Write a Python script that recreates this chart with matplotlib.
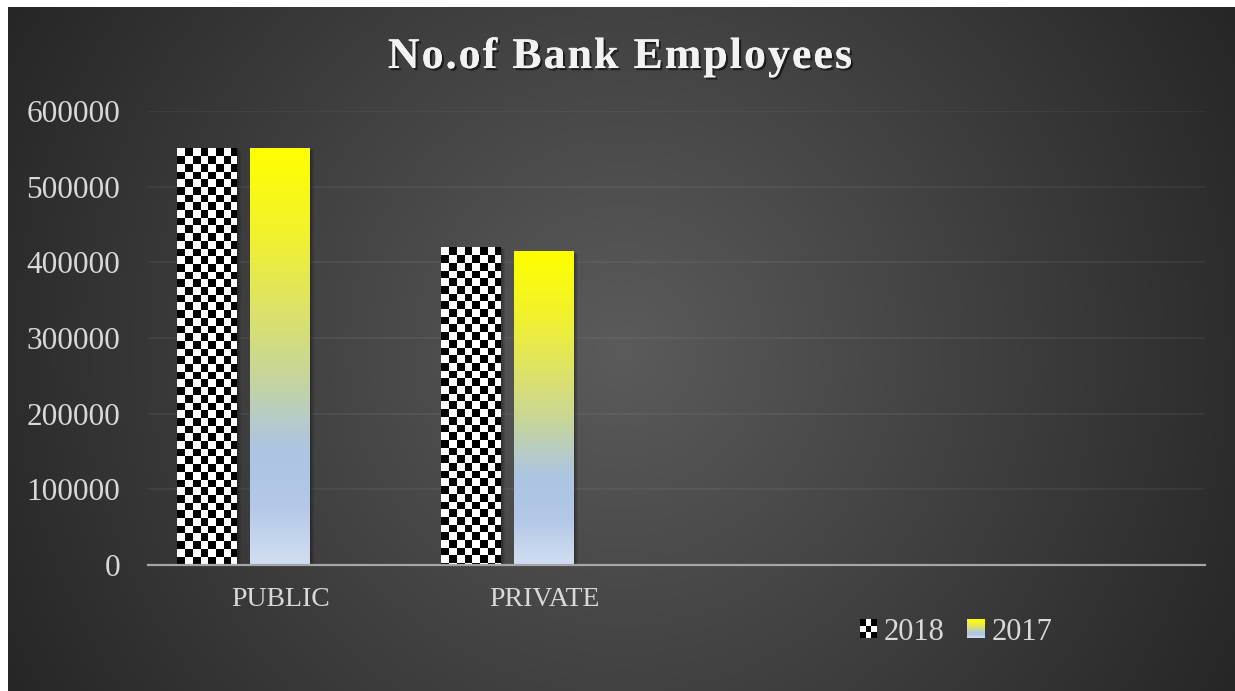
import numpy as np
import matplotlib
matplotlib.use("Agg")
import matplotlib.pyplot as plt
import matplotlib.transforms as mtransforms
from matplotlib.colors import LinearSegmentedColormap
from matplotlib.patches import Rectangle, Patch
from matplotlib.legend_handler import HandlerBase
from matplotlib import patheffects as pe
from matplotlib.font_manager import FontProperties, findfont
from matplotlib.ft2font import FT2Font

# ---- data -------------------------------------------------------------
categories = ["PUBLIC", "PRIVATE", "", ""]
series_names = ["2018", "2017"]
employees_2018 = [551000, 420000, np.nan, np.nan]
employees_2017 = [551000, 414000, np.nan, np.nan]
y_ticks = [0, 100000, 200000, 300000, 400000, 500000, 600000]
title = "No.of Bank Employees"

# ---- styling ----------------------------------------------------------
W, H, DPI = 1235, 691, 100
SERIF = "Liberation Serif"
TXT = "#D9D9D9"
plt.rcParams["font.family"] = [SERIF, "DejaVu Serif"]

grad_2017 = LinearSegmentedColormap.from_list(
    "grad2017",
    [(0.00, "#D2DFF2"), (0.14, "#B4C8E7"), (0.28, "#ADC4E3"),
     (0.36, "#B7CDC4"), (0.46, "#C8D698"), (0.62, "#DDE366"),
     (0.80, "#F2F22C"), (1.00, "#FFFF00")])

fig = plt.figure(figsize=(W / DPI, H / DPI), dpi=DPI, facecolor="white")

# ---- dark panel with radial shading -----------------------------------
bx0, by_top = 8, 7
bg = fig.add_axes([bx0 / W, 0, 1 - bx0 / W, 1 - by_top / H])
bg.set_axis_off()
pw, ph = W - bx0, H - by_top
yy, xx = np.mgrid[0:ph, 0:pw]
cx, cy = pw / 2, ph / 2
r = np.clip(np.hypot(xx - cx, yy - cy) / np.hypot(cx, cy), 0, 1)
inner, outer = 0x5B / 255, 0x26 / 255
shade = inner + (outer - inner) * r
bg.imshow(np.dstack([shade] * 3), extent=(0, 1, 0, 1), aspect="auto",
          interpolation="bilinear")
bg.set_xlim(0, 1)
bg.set_ylim(0, 1)

# ---- plot area --------------------------------------------------------
ax = fig.add_axes([148 / W, 1 - 565 / H, (1205 - 148) / W, (565 - 111) / H])
ax.patch.set_alpha(0)
ax.set_xlim(-0.5, len(categories) - 0.5)
ax.set_ylim(0, 600000)

x = np.arange(len(categories))
bw = 0.227      # bar width (fraction of a category slot)
step = 0.2763   # distance between neighbouring series in a group

bars18 = ax.bar(x - step, employees_2018, width=bw, color="none",
                linewidth=0, zorder=3)
bars17 = ax.bar(x, employees_2017, width=bw, color="none",
                linewidth=0, zorder=3)


def soft_shadow(rect):
    x0, y0 = rect.get_x(), rect.get_y()
    w, h = rect.get_width(), rect.get_height()
    for d in (1.0, 2.0, 3.0, 4.0):
        tr = ax.transData + mtransforms.ScaledTranslation(
            d / DPI, -d * 0.5 / DPI, fig.dpi_scale_trans)
        ax.add_patch(Rectangle((x0, y0), w, h, facecolor="black",
                               edgecolor="none", alpha=0.09,
                               transform=tr, zorder=2.5))


def bar_pixels(rect):
    x0, y0 = rect.get_x(), rect.get_y()
    w, h = rect.get_width(), rect.get_height()
    p0 = ax.transData.transform((x0, y0))
    p1 = ax.transData.transform((x0 + w, y0 + h))
    return x0, y0, w, h, int(round(p1[0] - p0[0])), int(round(p1[1] - p0[1]))


# 2018: white / black checkerboard, ~7.7 px cells, white in the top-left
CELL = 7.7
for rect in bars18.patches:
    if not np.isfinite(rect.get_height()):
        continue
    soft_shadow(rect)
    x0, y0, w, h, wpx, hpx = bar_pixels(rect)
    ii, jj = np.mgrid[0:hpx, 0:wpx]
    checker = 1.0 - ((np.floor(ii / CELL) + np.floor(jj / CELL)) % 2)
    ax.imshow(checker, cmap="gray", vmin=0, vmax=1, origin="upper",
              extent=(x0, x0 + w, y0, y0 + h), aspect="auto",
              interpolation="nearest", zorder=3)

# 2017: vertical gradient, yellow on top to pale blue at the base
grad = np.linspace(0, 1, 512).reshape(-1, 1)
for rect in bars17.patches:
    if not np.isfinite(rect.get_height()):
        continue
    soft_shadow(rect)
    x0, y0, w, h = rect.get_x(), rect.get_y(), rect.get_width(), rect.get_height()
    ax.imshow(grad, cmap=grad_2017, vmin=0, vmax=1, origin="lower",
              extent=(x0, x0 + w, y0, y0 + h), aspect="auto",
              interpolation="bilinear", zorder=3)

ax.set_xlim(-0.5, len(categories) - 0.5)
ax.set_ylim(0, 600000)

# ---- axes decoration --------------------------------------------------
ax.set_yticks(y_ticks, [str(v) for v in y_ticks])
ax.set_xticks(x, categories)
ax.yaxis.grid(True, color="white", alpha=0.05, linewidth=1.5)
ax.set_axisbelow(True)
for side in ("top", "right", "left"):
    ax.spines[side].set_visible(False)
ax.spines["bottom"].set_color("#A6A6A6")
ax.spines["bottom"].set_linewidth(1.6)
ax.spines["bottom"].set_zorder(5)
ax.tick_params(axis="y", length=0, pad=20, labelsize=22.5, labelcolor=TXT)
ax.tick_params(axis="x", length=0, pad=16, labelsize=20, labelcolor=TXT)


# ---- legend -----------------------------------------------------------
class CheckerHandler(HandlerBase):
    def create_artists(self, legend, orig_handle, xdescent, ydescent,
                       width, height, fontsize, trans):
        n = 3
        arts = []
        for i in range(n):
            for j in range(n):
                c = "black" if (i + j) % 2 == 0 else "white"
                arts.append(Rectangle((-xdescent + j * width / n,
                                       -ydescent + i * height / n),
                                      width / n, height / n, facecolor=c,
                                      edgecolor="none", transform=trans))
        return arts


class GradientHandler(HandlerBase):
    def create_artists(self, legend, orig_handle, xdescent, ydescent,
                       width, height, fontsize, trans):
        n = 24
        arts = []
        for k in range(n):
            arts.append(Rectangle((-xdescent, -ydescent + k * height / n),
                                  width, height / n + 0.05,
                                  facecolor=grad_2017((k + 0.5) / n),
                                  edgecolor="none", transform=trans))
        return arts


h18 = Patch(label=series_names[0])
h17 = Patch(label=series_names[1])
fig.legend([h18, h17], series_names, loc="center",
           bbox_to_anchor=(956 / W, 1 - 632 / H), ncol=2, frameon=False,
           fontsize=22, labelcolor=TXT, handlelength=0.56, handleheight=0.56,
           handletextpad=0.22, columnspacing=0.75, borderpad=0,
           handler_map={h18: CheckerHandler(), h17: GradientHandler()})

# ---- title: bold serif, letter-spaced, with a drop shadow -------------
tsize = 31.5
tprop = FontProperties(family=SERIF, weight="bold", size=tsize)
ft = FT2Font(findfont(tprop))
ft.set_size(tsize, 72)
adv = [ft.load_char(ord(c)).linearHoriAdvance / 65536 * DPI / 72 for c in title]
spacing = 2.1
total = sum(adv) + spacing * (len(title) - 1)
xpos = 620 - total / 2
shadow = [pe.withSimplePatchShadow(offset=(1.6, -1.6), shadow_rgbFace="black",
                                   alpha=0.55), pe.Normal()]
for c, a in zip(title, adv):
    if c != " ":
        fig.text(xpos / W, 1 - 68 / H, c, ha="left", va="baseline",
                 fontproperties=tprop, color="#F2F2F2", path_effects=shadow)
    xpos += a + spacing

fig.savefig("out.png", dpi=DPI, facecolor=fig.get_facecolor())
